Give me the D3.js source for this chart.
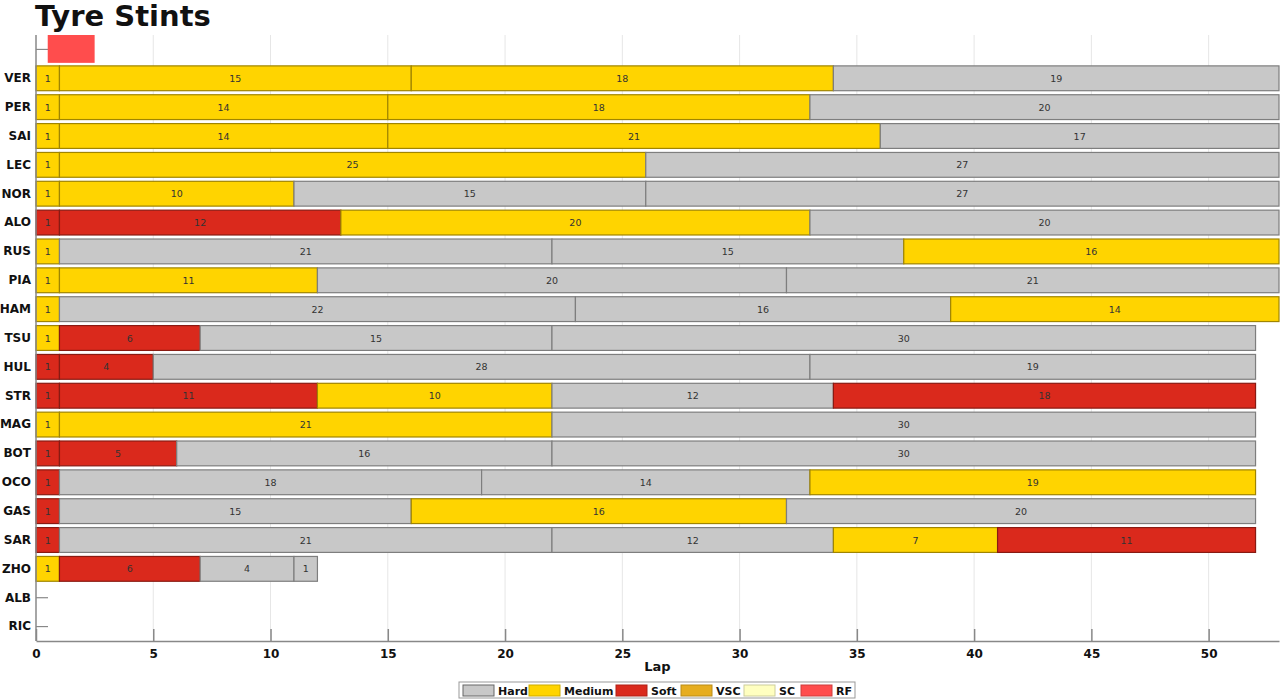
<!DOCTYPE html>
<html><head><meta charset="utf-8">
<script src="https://cdn.jsdelivr.net/npm/d3@7"></script>
<style>
body{margin:0;background:#fff;}
text{font-family:"DejaVu Sans",sans-serif;}
</style></head>
<body><svg id="chart" width="1280" height="700"></svg>
<script>
const drivers = ["VER","PER","SAI","LEC","NOR","ALO","RUS","PIA","HAM","TSU","HUL","STR","MAG","BOT","OCO","GAS","SAR","ZHO","ALB","RIC"];
// stint lengths per driver, in order
const stintLaps = {
  VER:[1,15,18,19], PER:[1,14,18,20], SAI:[1,14,21,17], LEC:[1,25,27], NOR:[1,10,15,27],
  ALO:[1,12,20,20], RUS:[1,21,15,16], PIA:[1,11,20,21], HAM:[1,22,16,14], TSU:[1,6,15,30],
  HUL:[1,4,28,19], STR:[1,11,10,12,18], MAG:[1,21,30], BOT:[1,5,16,30], OCO:[1,18,14,19],
  GAS:[1,15,16,20], SAR:[1,21,12,7,11], ZHO:[1,6,4,1], ALB:[], RIC:[]
};
const stintCompounds = {
  VER:["M","M","M","H"], PER:["M","M","M","H"], SAI:["M","M","M","H"], LEC:["M","M","H"], NOR:["M","M","H","H"],
  ALO:["S","S","M","H"], RUS:["M","H","H","M"], PIA:["M","M","H","H"], HAM:["M","H","H","M"], TSU:["M","S","H","H"],
  HUL:["S","S","H","H"], STR:["S","S","M","H","S"], MAG:["M","M","H"], BOT:["S","S","H","H"], OCO:["S","H","H","M"],
  GAS:["S","H","M","H"], SAR:["S","H","H","M","S"], ZHO:["M","S","H","H"], ALB:[], RIC:[]
};
const redFlag = [0.5, 2.5];
const xTicks = [0,5,10,15,20,25,30,35,40,45,50];
const legendItems = ["Hard","Medium","Soft","VSC","SC","RF"];
const colors = {H:"#c8c8c8", M:"#ffd400", S:"#da291c", Hard:"#c8c8c8", Medium:"#ffd400", Soft:"#da291c", VSC:"#e6ad1f", SC:"#ffffc0", RF:"#ff4d4d"};

const svg = d3.select("#chart");
const margin = {left:36, right:1, top:35, bottom:59};
const W = 1280, H = 700;
const x = d3.scaleLinear().domain([0,53]).range([margin.left, W - margin.right]);
const rows = ["_RF", ...drivers];
const y = d3.scaleBand().domain(rows).range([margin.top, H - margin.bottom]).paddingInner(0.14).paddingOuter(0.07);

// grid
svg.append("g").selectAll("line").data(xTicks.filter(d=>d>0)).join("line")
  .attr("x1",d=>x(d)).attr("x2",d=>x(d)).attr("y1",margin.top).attr("y2",H-margin.bottom)
  .attr("stroke","#e6e6e6").attr("stroke-width",1);

// axes (drawn under bars)
const yAxis = d3.axisLeft(y).tickSizeInner(-12).tickSizeOuter(0).tickPadding(5).tickFormat(d=>d==="_RF"?"":d);
const yg = svg.append("g").attr("transform",`translate(${margin.left},0)`).call(yAxis);
yg.select(".domain").remove();
yg.selectAll(".tick line").attr("stroke","#888").attr("stroke-width",1.2);
yg.selectAll(".tick text").attr("font-size",12).attr("font-weight","bold").attr("fill","#111").attr("x",-5);

// red flag
svg.append("rect").attr("x",x(redFlag[0])).attr("width",x(redFlag[1])-x(redFlag[0]))
  .attr("y",margin.top).attr("height",y.step()-1).attr("fill",colors.RF);

// stints
const segs = [];
drivers.forEach(d=>{
  let s=0;
  stintLaps[d].forEach((l,i)=>{ segs.push({d, start:s, len:l, c:stintCompounds[d][i]}); s+=l; });
});
const g = svg.append("g");
g.selectAll("rect").data(segs).join("rect")
  .attr("x",s=>x(s.start)).attr("width",s=>x(s.start+s.len)-x(s.start))
  .attr("y",s=>y(s.d)).attr("height",y.bandwidth())
  .attr("fill",s=>colors[s.c])
  .attr("stroke",s=>d3.color(colors[s.c]).darker(1.3))
  .attr("stroke-width",1.2);
g.selectAll("text").data(segs).join("text")
  .attr("x",s=>x(s.start+s.len/2)).attr("y",s=>y(s.d)+y.bandwidth()/2)
  .attr("text-anchor","middle").attr("dominant-baseline","central")
  .attr("font-size",9.5).attr("fill","#333").text(s=>s.len);

// left spine on top
svg.append("line").attr("x1",margin.left).attr("x2",margin.left).attr("y1",margin.top).attr("y2",H-margin.bottom)
  .attr("stroke","#888").attr("stroke-width",1.5);

const xAxis = d3.axisBottom(x).tickValues(xTicks).tickSizeInner(-12).tickSizeOuter(0).tickPadding(6);
const xg = svg.append("g").attr("transform",`translate(0,${H-margin.bottom})`).call(xAxis);
xg.select(".domain").attr("stroke","#888").attr("stroke-width",1.5);
xg.selectAll(".tick line").attr("stroke","#888").attr("stroke-width",1.5);
xg.selectAll(".tick text").attr("font-size",12).attr("font-weight","bold").attr("fill","#111").attr("dy","0.9em");

svg.append("text").attr("x",(x(0)+x(53))/2).attr("y",671).attr("text-anchor","middle")
  .attr("font-size",13).attr("font-weight","bold").attr("fill","#111").text("Lap");

svg.append("text").attr("x",35).attr("y",26).attr("font-size",29).attr("font-weight","bold")
  .attr("fill","#111").text("Tyre Stints");

// legend
const lg = svg.append("g");
lg.append("rect").attr("x",459).attr("y",682).attr("width",396).attr("height",16)
  .attr("fill","#fff").attr("stroke","#999").attr("stroke-width",1);
const legX = [463, 529, 616, 681, 744, 801];
legendItems.forEach((k,i)=>{
  lg.append("rect").attr("x",legX[i]).attr("y",685).attr("width",31).attr("height",11)
    .attr("fill",colors[k]).attr("stroke",(k==="Hard")?"#666":d3.color(colors[k]).darker(0.6)).attr("stroke-width",1);
  lg.append("text").attr("x",legX[i]+35).attr("y",691).attr("dominant-baseline","central")
    .attr("font-size",11).attr("font-weight","bold").attr("fill","#111").text(k);
});
</script></body></html>
